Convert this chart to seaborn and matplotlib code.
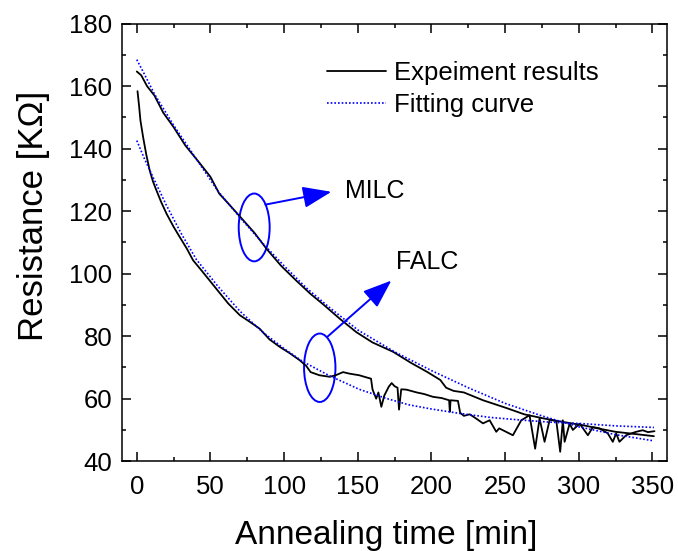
import numpy as np
import pandas as pd
import seaborn as sns
import matplotlib.pyplot as plt
from matplotlib.patches import Ellipse

milc_t = [0, 3, 7, 12, 18, 25, 33, 43, 50, 56, 63, 70, 80, 88, 98, 108, 118, 126,
          138, 149, 160, 174, 186, 197, 206, 210, 215, 222, 235, 251, 263, 276,
          290, 303, 315, 325, 340, 351]
milc_r = [164.7, 163.5, 160, 157, 151.5, 146.9, 141, 135.2, 131, 125.6, 122, 118.3,
          113, 108, 102.5, 97.9, 93.5, 90.4, 85.5, 81.3, 78, 75, 71.5, 68.6, 66,
          63.5, 62.5, 62, 59.5, 57, 55, 53.7, 52.5, 51.5, 50.3, 49.4, 48.6, 48]

# MILC fitting curve
milc_fit_t = [0, 5, 12, 25, 40, 55, 70, 85, 100, 115, 130, 150, 175, 200, 225,
              250, 275, 300, 325, 351]
milc_fit_r = [168.5, 164, 157.5, 147.5, 137, 126.5, 118, 110, 102.5, 95.5, 89.5,
              82, 75, 69, 63.5, 58.5, 54.5, 51, 48.5, 46.5]

# FALC experiment
falc_t = [0.5, 1.5, 2.5, 4.3, 6.5, 8.8, 11, 13.4, 16.5, 20.2, 25, 29.2, 34, 38.2,
          44, 50, 56, 62, 70, 77, 83.4, 90, 97, 104, 110.6, 115, 118, 124, 131,
          135, 140, 144.5, 151, 156, 159, 160, 162.5, 164, 166, 168, 171, 173,
          175, 177, 178, 179.5, 183, 190, 195, 201, 207, 212, 212.5, 213, 218,
          219.5, 222, 226, 230.5, 235, 239.5, 244, 246, 255.3, 261, 266.6, 270.4,
          273.4, 276.8, 280.3, 284.8, 287.4, 289.2, 290.4, 293.8, 296, 300.6,
          306.2, 309.6, 314.1, 319.7, 323.1, 325.4, 327.6, 332.1, 338.9, 343.4,
          347, 351.4]
falc_r = [158.4, 154, 149, 143.7, 138, 133, 129.5, 126.6, 123, 119.2, 115, 111.7,
          108, 104.3, 101, 97.5, 94, 90.5, 86.7, 84.5, 82.4, 79, 76.6, 74.5, 72.3,
          70.5, 68.5, 67.5, 67, 67.5, 68.5, 68, 67.5, 66.8, 66.4, 63, 60, 62,
          57.4, 61, 63.8, 65, 64, 63.5, 56.5, 63, 62.9, 62, 61.5, 60.6, 60.2,
          59.5, 55.8, 59.5, 59.3, 55.5, 54.5, 55, 53.6, 52.1, 53.1, 49.4, 50.5,
          48.3, 53.1, 54.7, 44, 53.7, 46.2, 53.3, 52.8, 43, 53.1, 46.2, 52, 50,
          52, 48.3, 50.9, 50.5, 48.9, 46.2, 48.9, 46.2, 48.3, 49.4, 49.9, 49.3,
          49.6]

# FALC fitting curve
falc_fit_t = [0, 5, 11, 20, 30, 40.5, 55, 70, 85, 100, 113, 131, 151, 170, 185,
              200, 219, 240, 260, 280, 303, 325, 351]
falc_fit_r = [142.6, 137, 130.9, 122, 113, 104.5, 96, 88, 81.5, 76, 71.8, 67.3,
              63, 60, 58, 56.7, 55.3, 54, 53.2, 52.5, 52, 51.3, 50.8]

sns.set_style("ticks", {"xtick.direction": "in", "ytick.direction": "in"})
plt.rcParams['font.family'] = ['Liberation Sans', 'DejaVu Sans']
plt.rcParams.update({'text.color': 'black', 'axes.labelcolor': 'black',
                     'xtick.color': 'black', 'ytick.color': 'black',
                     'axes.edgecolor': 'black'})

fig = plt.figure(figsize=(6.78, 5.51), dpi=100)
ax = fig.add_axes([0.18, 0.163, 0.804, 0.794])

sns.lineplot(x=milc_t, y=milc_r, ax=ax, color='black', lw=1.3,
             estimator=None, sort=False, label='Expeiment results')
sns.lineplot(x=falc_t, y=falc_r, ax=ax, color='black', lw=1.3,
             estimator=None, sort=False)
sns.lineplot(x=milc_fit_t, y=milc_fit_r, ax=ax, color='blue', lw=1.2,
             estimator=None, sort=False, label='Fitting curve')
sns.lineplot(x=falc_fit_t, y=falc_fit_r, ax=ax, color='blue', lw=1.2,
             estimator=None, sort=False)
for line in ax.lines[2:]:
    line.set_dashes((1, 1.2))

ax.set_xlim(-10, 360)
ax.set_ylim(40, 180)
ax.set_xticks(np.arange(0, 351, 50))
ax.set_xticks(np.arange(25, 351, 50), minor=True)
ax.set_yticks(np.arange(40, 181, 20))
ax.set_yticks(np.arange(50, 180, 20), minor=True)
ax.tick_params(which='both', top=True, right=True, width=1.1)
ax.tick_params(which='major', length=6.3, labelsize=18.5)
ax.tick_params(which='minor', length=3.1)
ax.tick_params(axis='x', pad=10)
ax.tick_params(axis='y', pad=7)
for sp in ax.spines.values():
    sp.set_visible(True)
    sp.set_linewidth(1.1)

ax.set_xlabel('Annealing time [min]', fontsize=24)
ax.set_ylabel('Resistance [K\u03a9]', fontsize=25)
ax.xaxis.set_label_coords(0.485, -0.135)
ax.yaxis.set_label_coords(-0.132, 0.56)

ax.legend(loc='upper left', bbox_to_anchor=(0.376, 0.915), frameon=False,
          fontsize=18.5, borderpad=0, borderaxespad=0, handlelength=2.3,
          handletextpad=0.3, labelspacing=0.3)

# ellipses and arrows
ax.add_patch(Ellipse((79.7, 114.8), 21, 21.7, fill=False, ec='blue', lw=1.4))
ax.add_patch(Ellipse((124.2, 69.9), 21.3, 21.9, fill=False, ec='blue', lw=1.4))
arrow = dict(arrowstyle='-|>,head_length=0.8,head_width=0.3', color='blue',
             lw=1.4, mutation_scale=22, shrinkA=0, shrinkB=0)
ax.annotate('', xy=(132.1, 126.2), xytext=(87.3, 122.1), arrowprops=arrow)
ax.annotate('', xy=(172.8, 97.8), xytext=(129.1, 79.7), arrowprops=arrow)
ax.text(141.1, 126.6, 'MILC', fontsize=18, va='center', ha='left')
ax.text(176.2, 103.7, 'FALC', fontsize=18, va='center', ha='left')

fig.savefig('out.png', dpi=100)
